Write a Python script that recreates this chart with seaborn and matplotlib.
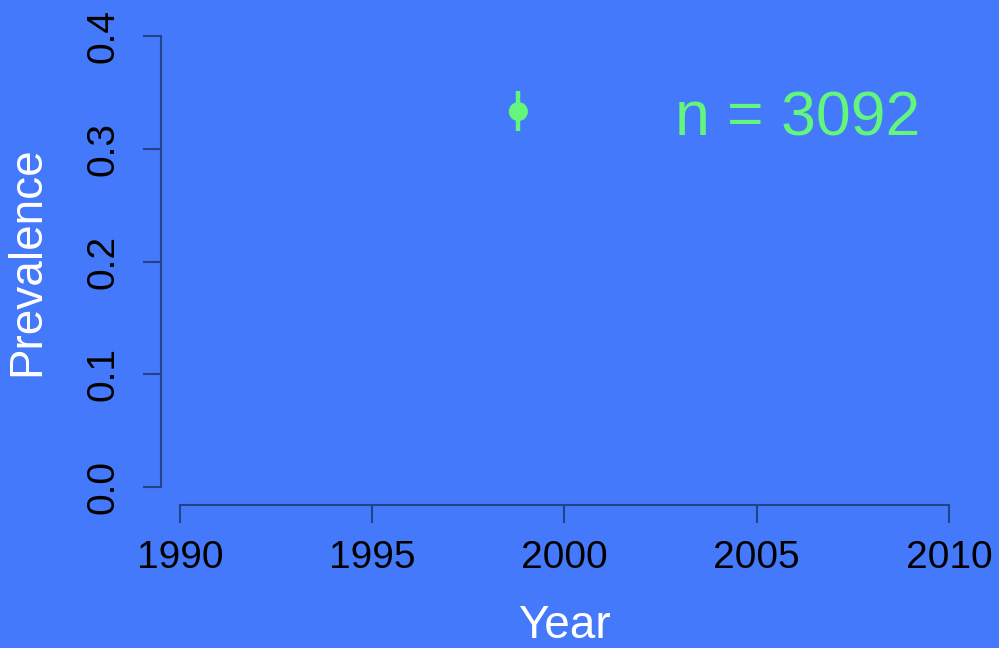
import matplotlib
matplotlib.use("Agg")
import matplotlib.pyplot as plt
import seaborn as sns
import pandas as pd

# Data
years = [1998.8]
prevalence = [0.333]
ci_low = [0.316]
ci_high = [0.351]
n_label = "n = 3092"
x_ticks = [1990, 1995, 2000, 2005, 2010]
y_ticks = [0.0, 0.1, 0.2, 0.3, 0.4]

BG = "#4379FA"
GREEN = "#64F57C"
AXC = "#22428a"

sns.set_theme(style="ticks")
plt.rcParams["font.family"] = ["Liberation Sans", "DejaVu Sans"]

fig = plt.figure(figsize=(9.99, 6.48), dpi=100, facecolor=BG)
ax = fig.add_axes([149.2 / 999, (648 - 505) / 648, 830.6 / 999, 487 / 648])
ax.set_facecolor(BG)

df = pd.DataFrame({"Year": years, "Prevalence": prevalence})
ax.vlines(years, ci_low, ci_high, color=GREEN, lw=3.2, zorder=2)
sns.scatterplot(data=df, x="Year", y="Prevalence", ax=ax, color=GREEN,
                s=190, edgecolor="none", zorder=3)

ax.set_xlim(1989.2, 2010.8)
ax.set_ylim(-0.016, 0.416)

for s in ["top", "right"]:
    ax.spines[s].set_visible(False)
ax.spines["left"].set_position(("data", 1989.5))
ax.spines["left"].set_bounds(0, 0.4)
ax.spines["bottom"].set_bounds(1990, 2010)
for s in ["left", "bottom"]:
    ax.spines[s].set_color(AXC)
    ax.spines[s].set_linewidth(1.5)

ax.set_xticks(x_ticks)
ax.set_xticklabels([str(t) for t in x_ticks])
ax.set_yticks(y_ticks)
ax.set_yticklabels([f"{t:.1f}" for t in y_ticks], rotation=90, va="center")
ax.tick_params(axis="both", colors=AXC, length=13, width=1.5, labelsize=28,
               labelcolor="black")
ax.tick_params(axis="x", pad=12)
ax.tick_params(axis="y", pad=15)

ax.set_xlabel("Year", color="white", fontsize=33, labelpad=20)
ax.set_ylabel("Prevalence", color="white", fontsize=33, labelpad=26)

ax.text(2002.87, 0.312, n_label, color=GREEN, fontsize=45, ha="left",
        va="baseline")

fig.savefig("out.png", dpi=100, facecolor=BG)
